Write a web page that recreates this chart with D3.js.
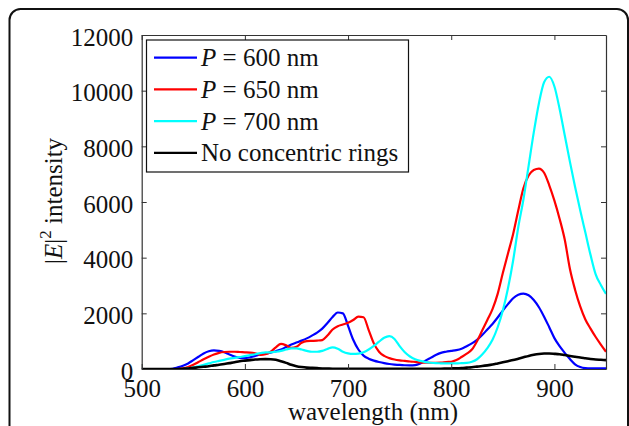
<!DOCTYPE html>
<html>
<head>
<meta charset="utf-8">
<script src="https://cdn.jsdelivr.net/npm/d3@7"></script>
<style>
  body { margin: 0; background: #fff; }
  svg text { font-family: "Liberation Serif", "Times New Roman", Tinos, Times, "DejaVu Serif", "Noto Serif", serif; fill: #111; }
</style>
</head>
<body>
<div id="chart"></div>
<script>
var svgWidth = 629;
var svgHeight = 426;

var margin = { top: 35, right: 23, bottom: 57, left: 141.7 };
var width = svgWidth - margin.left - margin.right;
var height = svgHeight - margin.top - margin.bottom;

var serif = '"Liberation Serif", "Times New Roman", Tinos, Times, "DejaVu Serif", serif';

// wavelength grid (nm), 500..950 step 5
var wavelengths = d3.range(500, 951, 5);

var seriesNames = ["P = 600 nm", "P = 650 nm", "P = 700 nm", "No concentric rings"];
var seriesColors = ["#0000ff", "#ff0000", "#00ffff", "#000000"];

var p600 = [
  0, 0, 0, 0, 0, 0, 10, 60, 120, 200, 320, 440, 560, 640, 670, 650, 600, 520, 450, 400,
  390, 420, 470, 520, 560, 590, 640, 700, 790, 880, 950, 1020, 1100, 1200, 1310, 1450, 1650, 1870, 2030, 2000,
  1550, 1050, 700, 480, 370, 300, 250, 210, 180, 160, 145, 135, 130, 140, 200, 300, 400, 500, 580, 620,
  650, 680, 730, 820, 920, 1050, 1220, 1420, 1620, 1850, 2100, 2330, 2540, 2670, 2710, 2650, 2480, 2220, 1880, 1500,
  1110, 820, 580, 360, 170, 70, 30, 20, 20, 20, 20
];

var p650 = [
  0, 0, 0, 0, 0, 0, 0, 0, 20, 70, 150, 250, 350, 440, 520, 580, 610, 620, 620, 610,
  600, 590, 560, 510, 530, 620, 780, 900, 850, 760, 800, 940, 1000, 1010, 1020, 1040, 1200, 1420, 1540, 1600,
  1660, 1760, 1880, 1860, 1400, 920, 620, 470, 390, 340, 310, 290, 270, 255, 240, 230, 225, 225, 230, 250,
  260, 320, 430, 550, 700, 1000, 1380, 1760, 2150, 2700, 3450, 4150, 4850, 5700, 6500, 6950, 7150, 7200, 7050, 6600,
  6050, 5400, 4650, 3600, 2850, 2250, 1780, 1450, 1150, 880, 620
];

var p700 = [
  0, 0, 0, 0, 0, 0, 0, 0, 0, 20, 60, 100, 150, 200, 250, 290, 330, 370, 400, 430,
  460, 500, 530, 570, 600, 600, 620, 650, 700, 740, 740, 700, 650, 620, 620, 650, 720, 780, 730, 620,
  560, 540, 550, 600, 700, 830, 980, 1120, 1180, 1080, 820, 600, 450, 350, 290, 250, 225, 210, 205, 200,
  200, 200, 210, 220, 260, 350, 520, 750, 1050, 1500, 2100, 2900, 3900, 5100, 6100, 7300, 8500, 9550, 10300, 10500,
  10150, 9350, 8400, 7450, 6550, 5700, 4900, 4100, 3400, 3020, 2700
];

var noRings = [
  0, 0, 0, 0, 0, 0, 0, 0, 10, 20, 40, 60, 80, 100, 130, 150, 180, 210, 240, 280,
  300, 320, 340, 350, 355, 350, 330, 280, 220, 150, 100, 70, 50, 40, 30, 20, 15, 10, 10, 10,
  10, 10, 10, 10, 10, 10, 10, 10, 10, 10, 10, 10, 10, 10, 10, 10, 10, 10, 10, 15,
  20, 25, 35, 50, 65, 85, 105, 130, 160, 200, 240, 280, 320, 370, 420, 470, 510, 540, 555, 555,
  545, 530, 500, 470, 440, 410, 385, 360, 340, 330, 320
];

var allSeries = [p600, p650, p700, noRings];

var xTicks = [500, 600, 700, 800, 900];
var yTicks = [0, 2000, 4000, 6000, 8000, 10000, 12000];

var svg = d3.select("#chart")
  .append("svg")
  .attr("width", svgWidth)
  .attr("height", svgHeight);

// outer rounded frame
svg.append("rect")
  .attr("x", 9.5)
  .attr("y", 9)
  .attr("width", 618.5)
  .attr("height", 440)
  .attr("rx", 11)
  .attr("fill", "none")
  .attr("stroke", "#111")
  .attr("stroke-width", 2);

var chartGroup = svg.append("g")
  .attr("transform", `translate(${margin.left}, ${margin.top})`);

var xScale = d3.scaleLinear().domain([500, 950]).range([0, width]);
var yScale = d3.scaleLinear().domain([0, 12000]).range([height, 0]);

// clip for curves
chartGroup.append("clipPath").attr("id", "clip")
  .append("rect").attr("width", width).attr("height", height);

var line = d3.line()
  .x(d => xScale(d[0]))
  .y(d => yScale(d[1]))
  .curve(d3.curveMonotoneX);

allSeries.forEach(function(vals, i) {
  chartGroup.append("path")
    .datum(wavelengths.map((w, j) => [w, vals[j]]))
    .attr("clip-path", "url(#clip)")
    .attr("fill", "none")
    .attr("stroke", seriesColors[i])
    .attr("stroke-width", i === 3 ? 2.6 : 2.2)
    .attr("d", line);
});

// axes with inward ticks
var fmt = d3.format("d");
var bottomAxis = d3.axisBottom(xScale).tickValues(xTicks).tickSizeInner(-5).tickSizeOuter(0).tickPadding(10).tickFormat(fmt);
var topAxis = d3.axisTop(xScale).tickValues(xTicks).tickSizeInner(-5).tickSizeOuter(0).tickFormat("");
var leftAxis = d3.axisLeft(yScale).tickValues(yTicks).tickSizeInner(-5).tickSizeOuter(0).tickPadding(8.5).tickFormat(fmt);
var rightAxis = d3.axisRight(yScale).tickValues(yTicks).tickSizeInner(-5).tickSizeOuter(0).tickFormat("");

function styleAxis(g) {
  g.attr("font-family", serif);
  g.select(".domain").attr("stroke", "#333").attr("stroke-width", 1.2);
  g.selectAll(".tick line").attr("stroke", "#333").attr("stroke-width", 1);
  g.selectAll(".tick text")
    .attr("font-size", 25)
    .attr("fill", "#111");
}

chartGroup.append("g").attr("transform", `translate(0, ${height})`).call(bottomAxis).call(styleAxis);
chartGroup.append("g").call(topAxis).call(styleAxis);
chartGroup.append("g").call(leftAxis).call(styleAxis)
  .selectAll(".tick text").attr("dy", "0.4em");
chartGroup.append("g").attr("transform", `translate(${width}, 0)`).call(rightAxis).call(styleAxis);

// axis labels
svg.append("text")
  .attr("x", 373)
  .attr("y", 420)
  .attr("text-anchor", "middle")
  .attr("font-size", 25)
  .text("wavelength (nm)");

var yLabel = svg.append("text")
  .attr("transform", "translate(62, 201) rotate(-90)")
  .attr("text-anchor", "middle")
  .attr("font-size", 25);
yLabel.append("tspan").text("|");
yLabel.append("tspan").attr("font-style", "italic").text("E");
yLabel.append("tspan").text("|");
yLabel.append("tspan").attr("font-size", 17).attr("dy", -11).text("2");
yLabel.append("tspan").attr("dy", 11).text(" intensity");

// legend
var legend = svg.append("g");
legend.append("rect")
  .attr("x", 146.5)
  .attr("y", 40)
  .attr("width", 262)
  .attr("height", 132)
  .attr("fill", "#fff")
  .attr("stroke", "#111")
  .attr("stroke-width", 1.2);

seriesNames.forEach(function(name, i) {
  var ly = 57.7 + i * 31.7;
  legend.append("line")
    .attr("x1", 154).attr("x2", 197)
    .attr("y1", ly).attr("y2", ly)
    .attr("stroke", seriesColors[i])
    .attr("stroke-width", 2.2);
  var t = legend.append("text")
    .attr("x", 201)
    .attr("y", ly + 8.5)
    .attr("font-size", 25);
  if (name.startsWith("P")) {
    t.append("tspan").attr("font-style", "italic").text("P");
    t.append("tspan").text(name.slice(1));
  } else {
    t.text(name);
  }
});
</script>
</body>
</html>
